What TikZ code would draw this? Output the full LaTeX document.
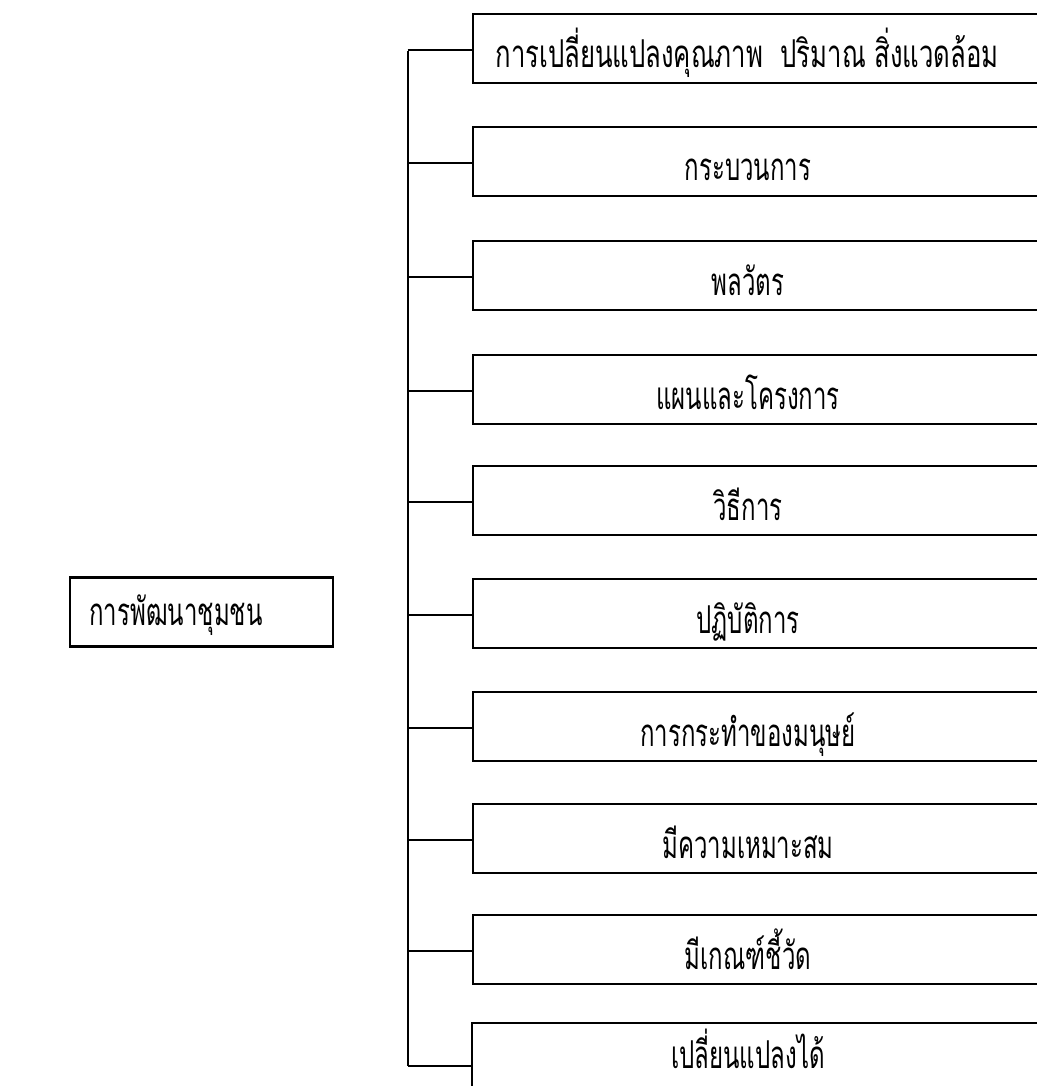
\documentclass[tikz,border=0pt]{standalone}
\usepackage{fontspec}
\usepackage{graphicx}
\newfontfamily\thai[Script=Thai]{Loma}
\newcommand{\tall}[1]{\scalebox{1}[1.6]{#1}}
\begin{document}
\begin{tikzpicture}[x=1pt,y=-1pt,
  box/.style={draw=black,line width=2.2pt,rectangle,minimum height=69pt,inner sep=0pt},
  lbl/.style={font=\thai\fontsize{24}{28}\selectfont,inner sep=0pt,anchor=base},
  conn/.style={draw=black,line width=2pt}]
\useasboundingbox (0,0) rectangle (1036,1086);
\fill[white] (0,0) rectangle (1036,1086);
% left box
\node[box,minimum width=263pt] (root) at (201.5,612) {};
\node[lbl] (rootT) at (176,625) {\tall{การพัฒนาชุมชน}};
% vertical bus
\coordinate (top) at (407.5,51);
\coordinate (bot) at (407.5,1066);
\draw[conn] (top) -- (bot);
% right boxes
\foreach \i/\t/\txt in {2/127/{กระบวนการ},
                        3/241/{พลวัตร},
                        4/355/{แผนและโครงการ},
                        5/466/{วิธีการ},
                        6/579/{ปฏิบัติการ},
                        7/692/{การกระทำของมนุษย์},
                        8/804/{มีความเหมาะสม},
                        9/915/{มีเกณฑ์ชี้วัด}}{
  \node[box,minimum width=580pt] (b\i) at (763,\t+34.5) {};
  \node[lbl] (t\i) at (748,\t+54) {\tall{\txt}};
  \draw[conn] (407.5,\t+36) -- (b\i.west |- 0,\t+36);
}
\node[box,minimum width=580pt] (b1) at (763,48.5) {};
\node[lbl] (t1) at (747,68) {\scalebox{1.07}[1.6]{การเปลี่ยนแปลงคุณภาพ\ \ ปริมาณ\ สิ่งแวดล้อม}};
\draw[conn] (407.5,50) -- (b1.west |- 0,50);
\node[box,minimum width=580pt,minimum height=90pt] (b10) at (762,1068) {};
\node[lbl] (t10) at (748,1068) {\tall{เปลี่ยนแปลงได้}};
\draw[conn] (bot) -- (bot -| b10.west);
\end{tikzpicture}
\end{document}
